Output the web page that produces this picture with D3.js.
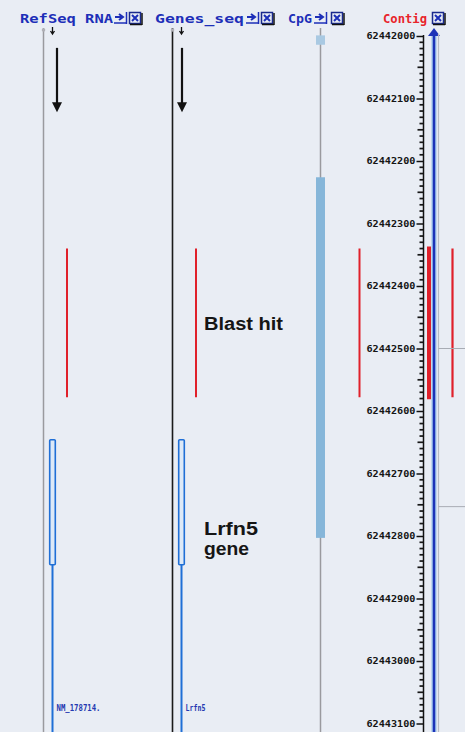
<!DOCTYPE html>
<html>
<head>
<meta charset="utf-8">
<script src="https://cdn.jsdelivr.net/npm/d3@7"></script>
<style>
  html, body { margin: 0; padding: 0; background: #e9edf4; }
  svg { display: block; }
</style>
</head>
<body>
<svg id="chart" width="465" height="732"></svg>
<script>
// Genomic coordinate ticks on the contig ruler
const tickValues = [62442000, 62442100, 62442200, 62442300, 62442400, 62442500,
                    62442600, 62442700, 62442800, 62442900, 62443000, 62443100];

// Track headers
const tracks = ["RefSeq RNA", "Genes_seq", "CpG", "Contig"];

// Blast hit span (same hit shown on each track)
const blastHit = [62442340, 62442578];

// Lrfn5 exon block and feature labels
const geneExon = [62442646, 62442846];
const geneLabels = ["NM_178714.", "Lrfn5"];

// CpG island span and start marker
const cpgIsland = [62442226, 62442803];
const cpgMarker = [62441999, 62442014];

// Direction arrows drawn above each gene track
const arrowSpan = [62442019, 62442122];

const svg = d3.select("#chart");
const W = 465, H = 732;

const y = d3.scaleLinear().domain([62442000, 62443100]).range([36, 723.5]);
const yTop = 28;

// Horizontal placement of each track
const x = d3.scaleOrdinal()
  .domain(["refLine", "refFeat", "geneLine", "geneFeat", "cpg", "blastC", "axis", "contigHit", "contig", "contigGrey", "blastR"])
  .range([43.5, 52.5, 172.5, 181.5, 320.5, 359.5, 423.5, 429, 434, 438.5, 452.5]);

// ---- header ----
const hdr = svg.append("g").attr("font-family", "'DejaVu Sans Mono', monospace")
  .attr("font-weight", "bold").attr("font-size", 13);
const headerSpec = [
  { t: tracks[0], x0: 20, w: 93, c: "#1d2fb8", icons: [114, 129] },
  { t: tracks[1], x0: 155, w: 89, c: "#1d2fb8", icons: [246, 261] },
  { t: tracks[2], x0: 288, w: 24, c: "#1d2fb8", icons: [314, 331] },
  { t: tracks[3], x0: 383, w: 44, c: "#e8242a", icons: [null, 432] }
];
headerSpec.forEach(h => {
  hdr.append("text").attr("x", h.x0).attr("y", 23).attr("fill", h.c)
    .attr("textLength", h.w).attr("lengthAdjust", "spacingAndGlyphs").text(h.t);
  if (h.icons[0] != null) {
    const g = hdr.append("g").attr("transform", `translate(${h.icons[0]},12)`);
    g.append("path").attr("d", "M1,5 H8 M5,2 L9,5 L5,8").attr("stroke", "#1d2fb8").attr("stroke-width", 2).attr("fill", "none");
    g.append("line").attr("x1", 0).attr("x2", 12).attr("y1", 11).attr("y2", 11).attr("stroke", "#1d2fb8").attr("stroke-width", 1.5);
    g.append("line").attr("x1", 12.5).attr("x2", 12.5).attr("y1", 0).attr("y2", 12).attr("stroke", "#1d2fb8").attr("stroke-width", 1.5);
  }
  const g2 = hdr.append("g").attr("transform", `translate(${h.icons[1]},12)`);
  g2.append("rect").attr("x", 0.5).attr("y", 0.5).attr("width", 11).attr("height", 11).attr("fill", "#e9edf4")
    .attr("stroke", "#1a2a8c").attr("stroke-width", 1.5);
  g2.append("path").attr("d", "M3,3 L9,9 M9,3 L3,9").attr("stroke", "#1d2fb8").attr("stroke-width", 2);
  g2.append("line").attr("x1", 13).attr("x2", 13).attr("y1", 1).attr("y2", 13).attr("stroke", "#111").attr("stroke-width", 1.5);
  g2.append("line").attr("x1", 1).attr("x2", 13).attr("y1", 12.5).attr("y2", 12.5).attr("stroke", "#111").attr("stroke-width", 1.5);
});

// ---- track backbones ----
svg.append("line").attr("x1", x("refLine")).attr("x2", x("refLine")).attr("y1", yTop).attr("y2", H)
  .attr("stroke", "#9a9a9e").attr("stroke-width", 1.5);
svg.append("line").attr("x1", x("geneLine")).attr("x2", x("geneLine")).attr("y1", yTop).attr("y2", H)
  .attr("stroke", "#1a1a1a").attr("stroke-width", 1.6);
svg.append("line").attr("x1", x("cpg")).attr("x2", x("cpg")).attr("y1", yTop).attr("y2", H)
  .attr("stroke", "#9a9a9e").attr("stroke-width", 1.5);

// small track-top markers
["refLine", "geneLine"].forEach(k => {
  svg.append("circle").attr("cx", x(k)).attr("cy", 30).attr("r", 1.8).attr("fill", "#b0b0b6");
});
["refFeat", "geneFeat"].forEach(k => {
  svg.append("path").attr("d", `M${x(k)},27 V33 M${x(k) - 2},31 L${x(k)},34 L${x(k) + 2},31`)
    .attr("stroke", "#111").attr("stroke-width", 1.3).attr("fill", "none");
});

// ---- black direction arrows ----
[x("refFeat") + 4.5, x("geneFeat") + 0.5].forEach(ax => {
  const y0 = y(arrowSpan[0]), y1 = y(arrowSpan[1]);
  svg.append("line").attr("x1", ax).attr("x2", ax).attr("y1", y0).attr("y2", y1 - 8)
    .attr("stroke", "#111").attr("stroke-width", 2.2);
  svg.append("path").attr("d", `M${ax - 5},${y1 - 10} L${ax + 5},${y1 - 10} L${ax},${y1} Z`).attr("fill", "#111");
});

// ---- CpG island ----
svg.append("rect").attr("x", x("cpg") - 4.5).attr("width", 9)
  .attr("y", y(cpgMarker[0])).attr("height", y(cpgMarker[1]) - y(cpgMarker[0]))
  .attr("fill", "#a9c9e2");
svg.append("rect").attr("x", x("cpg") - 4.5).attr("width", 9)
  .attr("y", y(cpgIsland[0])).attr("height", y(cpgIsland[1]) - y(cpgIsland[0]))
  .attr("fill", "#86b6d9");

// ---- Blast hits ----
const hitLines = [
  { k: "refFeat", dx: 14.5, w: 2 },
  { k: "geneFeat", dx: 14.5, w: 2 },
  { k: "blastC", dx: 0, w: 2 },
  { k: "blastR", dx: 0, w: 2.2 }
];
hitLines.forEach(h => {
  svg.append("line").attr("x1", x(h.k) + h.dx).attr("x2", x(h.k) + h.dx)
    .attr("y1", y(blastHit[0])).attr("y2", y(blastHit[1]))
    .attr("stroke", "#e0202a").attr("stroke-width", h.w);
});

// ---- gene models ----
["refFeat", "geneFeat"].forEach((k, i) => {
  const cx = x(k);
  svg.append("line").attr("x1", cx).attr("x2", cx).attr("y1", y(geneExon[1])).attr("y2", H)
    .attr("stroke", "#1f6fd6").attr("stroke-width", 2);
  svg.append("rect").attr("x", cx - 2.8).attr("width", 5.6)
    .attr("y", y(geneExon[0])).attr("height", y(geneExon[1]) - y(geneExon[0]))
    .attr("rx", 1).attr("fill", "#dde9f7").attr("stroke", "#1f6fd6").attr("stroke-width", 1.6);
  svg.append("text").attr("x", cx + 4).attr("y", 711)
    .attr("font-family", "'DejaVu Sans Mono', monospace").attr("font-weight", "bold").attr("font-size", 8)
    .attr("fill", "#2338b0").attr("textLength", i === 0 ? 44 : 20).attr("lengthAdjust", "spacingAndGlyphs")
    .text(geneLabels[i]);
});

// ---- annotation labels ----
const ann = svg.append("g").attr("font-family", "'Liberation Sans', Arial, sans-serif")
  .attr("font-weight", "bold").attr("font-size", 18).attr("fill", "#151515");
ann.append("text").attr("x", 204).attr("y", 330).attr("textLength", 79).attr("lengthAdjust", "spacingAndGlyphs").text("Blast hit");
ann.append("text").attr("x", 204).attr("y", 535).attr("textLength", 54).attr("lengthAdjust", "spacingAndGlyphs").text("Lrfn5");
ann.append("text").attr("x", 204).attr("y", 555).attr("textLength", 45).attr("lengthAdjust", "spacingAndGlyphs").text("gene");

// ---- contig ruler ----
const axisX = 423.5;
const minorTicks = d3.range(1, 110).filter(i => i % 10 !== 0).map(i => 62442000 + i * 10);
const rulerTicks = svg.append("g").attr("id", "ruler-minor");
rulerTicks.selectAll("rect").data(minorTicks).join("rect")
  .attr("x", d => axisX - ((d / 10) % 5 === 0 ? 6 : 4))
  .attr("y", d => y(d) - 0.8)
  .attr("width", d => ((d / 10) % 5 === 0 ? 6 : 4))
  .attr("height", 1.7)
  .attr("fill", "#161616");

svg.append("line").attr("x1", axisX).attr("x2", axisX).attr("y1", y(62442000) - 1).attr("y2", H)
  .attr("stroke", "#111").attr("stroke-width", 1.5);
const axis = d3.axisLeft(y).tickValues(tickValues).tickSize(7).tickPadding(1).tickFormat(d3.format("d"));
const ag = svg.append("g").attr("transform", `translate(${axisX},0)`).call(axis);
ag.select(".domain").remove();
ag.selectAll(".tick line").attr("stroke", "#111").attr("stroke-width", 1.5);
ag.selectAll(".tick text").attr("font-family", "'DejaVu Sans Mono', monospace").attr("font-weight", "bold")
  .attr("font-size", 9).attr("fill", "#151515").attr("textLength", 49).attr("lengthAdjust", "spacingAndGlyphs");

// ---- contig strand ----
const cX = x("contig");
svg.append("line").attr("x1", cX).attr("x2", cX).attr("y1", 34).attr("y2", H)
  .attr("stroke", "#9cc2ea").attr("stroke-width", 5);
svg.append("line").attr("x1", cX).attr("x2", cX).attr("y1", 34).attr("y2", H)
  .attr("stroke", "#1d33b8").attr("stroke-width", 2.4);
svg.append("path").attr("d", `M${cX - 6},36 L${cX + 6},36 L${cX},28 Z`).attr("fill", "#1d33b8");
svg.append("line").attr("x1", x("contigGrey")).attr("x2", x("contigGrey")).attr("y1", 34).attr("y2", H)
  .attr("stroke", "#b8bcc4").attr("stroke-width", 1.2);
svg.append("line").attr("x1", x("contigHit")).attr("x2", x("contigHit"))
  .attr("y1", y(blastHit[0]) - 2).attr("y2", y(blastHit[1]) + 2)
  .attr("stroke", "#e0202a").attr("stroke-width", 4);
[62442500, 62442753].forEach(v => {
  svg.append("line").attr("x1", x("contigGrey")).attr("x2", W).attr("y1", y(v)).attr("y2", y(v))
    .attr("stroke", "#a8acb4").attr("stroke-width", 1);
});
</script>
</body>
</html>
